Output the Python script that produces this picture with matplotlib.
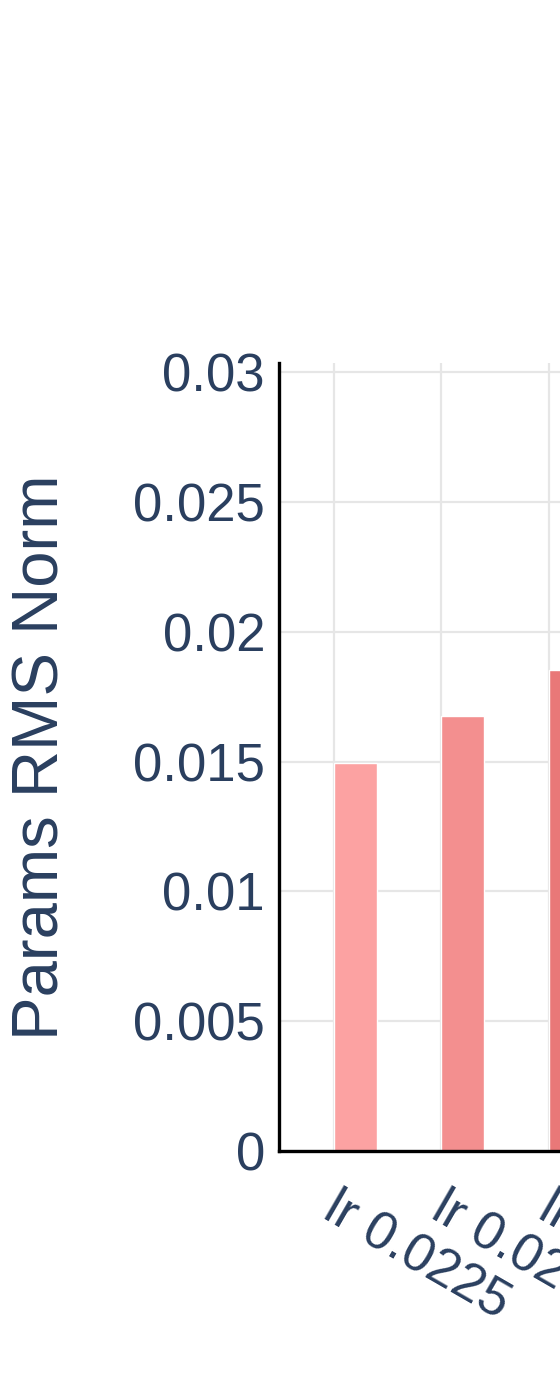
import numpy as np
import matplotlib
matplotlib.use("Agg")
import matplotlib.pyplot as plt
from matplotlib.transforms import ScaledTranslation

# ---- data ----
categories = ["lr 0.0225", "lr 0.025", "lr 0.0275"]
rms_norm = [0.01495, 0.01676, 0.01853]
bar_colors = ["#FCA2A2", "#F38F8F", "#E97878"]
y_ticks = [0, 0.005, 0.01, 0.015, 0.02, 0.025, 0.03]
y_tick_labels = ["0", "0.005", "0.01", "0.015", "0.02", "0.025", "0.03"]
y_title = "Params RMS Norm"

TEXT = "#2a3f5f"
plt.rcParams["font.family"] = ["Liberation Sans", "DejaVu Sans"]

W, H, DPI = 560, 1386, 100
fig = plt.figure(figsize=(W / DPI, H / DPI), dpi=DPI)
fig.patch.set_facecolor("white")

# plot area in pixels (extends past the right edge of the picture)
left_px, top_px, bottom_px = 279, 363, 1151
cat_px = 107.3
x_lo = -0.513
x_hi = len(categories) - 0.5
ax_w_px = (x_hi - x_lo) * cat_px
ax = fig.add_axes([left_px / W, (H - bottom_px) / H, ax_w_px / W, (bottom_px - top_px) / H])
ax.set_facecolor("white")

x = np.arange(len(categories))
ax.bar(x, rms_norm, width=0.4, align="edge", color=bar_colors,
       edgecolor="white", linewidth=1.0, zorder=3)

ax.set_xlim(x_lo, x_hi)
ax.set_ylim(0, 0.03036)

ax.set_yticks(y_ticks)
ax.set_yticklabels(y_tick_labels)
ax.set_xticks(x)
ax.set_xticklabels(categories, rotation=-30, ha="left", va="top",
                   rotation_mode="anchor")

ax.grid(True, color="#e6e6e6", linewidth=1.6, zorder=0)
ax.set_axisbelow(True)

for s in ["top", "right"]:
    ax.spines[s].set_visible(False)
for s in ["left", "bottom"]:
    ax.spines[s].set_color("black")
    ax.spines[s].set_linewidth(2.4)
    ax.spines[s].set_zorder(4)

ax.tick_params(axis="y", length=0, pad=10, labelsize=38, labelcolor=TEXT)
ax.tick_params(axis="x", length=0, pad=23, labelsize=38, labelcolor=TEXT)

off = ScaledTranslation(7 / DPI, 0, fig.dpi_scale_trans)
for lab in ax.get_xticklabels():
    lab.set_transform(lab.get_transform() + off)

ax.set_ylabel(y_title, fontsize=47, color=TEXT)
ax.yaxis.label.set_va("baseline")
ax.yaxis.set_label_coords((59 - left_px) / ax_w_px, 0.5)

fig.savefig("out.png", dpi=DPI, facecolor="white")
